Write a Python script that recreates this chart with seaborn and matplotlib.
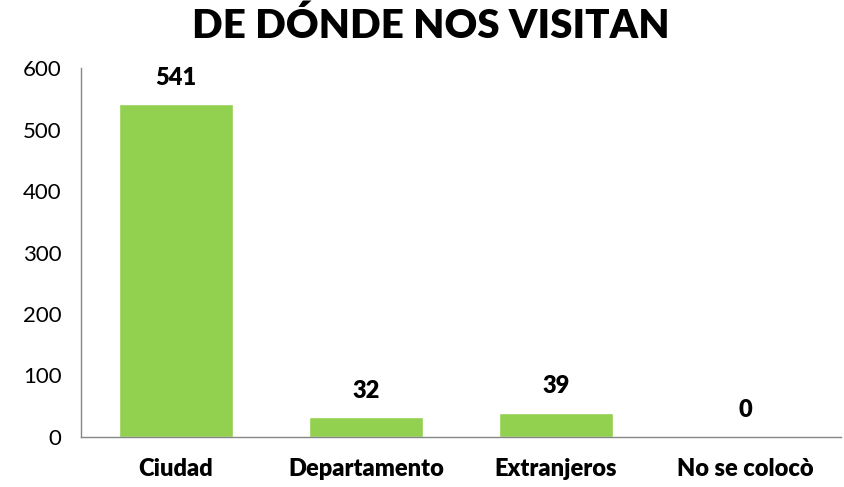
import numpy as np
import pandas as pd
import matplotlib.pyplot as plt
import seaborn as sns

# Data
categories = ['Ciudad', 'Departamento', 'Extranjeros', 'No se colocò']
visits = [541, 32, 39, 0]
y_ticks = [0, 100, 200, 300, 400, 500, 600]

df = pd.DataFrame({'origen': categories, 'visitas': visits})

sns.set_style('white')
plt.rcParams['font.family'] = ['Lato', 'DejaVu Sans']
plt.rcParams['text.color'] = 'black'
plt.rcParams['xtick.color'] = 'black'
plt.rcParams['ytick.color'] = 'black'

fig = plt.figure(figsize=(8.44, 4.87), dpi=100)
ax = fig.add_axes([0.096, 0.103, 0.900, 0.757])

sns.barplot(data=df, x='origen', y='visitas', color='#92D050',
            width=0.6, saturation=1, ax=ax)

# Value labels above bars
for i, v in enumerate(visits):
    ax.annotate(str(v), (i, v), xytext=(0, 19), textcoords='offset points',
                ha='center', va='center', fontsize=17, fontweight='heavy',
                color='black')

ax.set_xlim(-0.5, len(categories) - 0.5)
ax.set_ylim(0, 600)
ax.set_yticks(y_ticks)
ax.set_xticks(range(len(categories)))
ax.set_xticklabels(categories, fontsize=17, fontweight='heavy')
ax.set_xticks(np.arange(-0.5, len(categories)), minor=True)
ax.tick_params(axis='x', which='major', length=0, pad=15)
ax.tick_params(axis='x', which='minor', length=6, color='#868686', width=1)
ax.tick_params(axis='y', length=6, color='#868686', width=1, labelsize=16,
               labelcolor='black', pad=8)

ax.set_xlabel('')
ax.set_ylabel('')
for side in ['top', 'right']:
    ax.spines[side].set_visible(False)
for side in ['left', 'bottom']:
    ax.spines[side].set_color('#868686')
    ax.spines[side].set_linewidth(1)

fig.suptitle('DE DÓNDE NOS VISITAN', x=0.51, y=0.985, fontsize=29,
             fontweight='heavy', va='top', color='black')

fig.savefig('out.png', dpi=100)
